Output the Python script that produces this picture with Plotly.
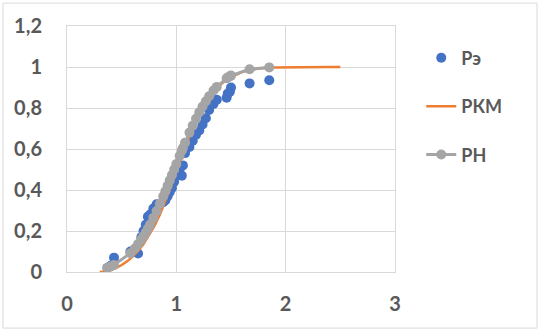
import plotly.graph_objects as go

# Sample points (x) with empirical (Рэ) and normal (РН) probabilities
x_obs = [0.37, 0.40, 0.43, 0.58, 0.62, 0.65, 0.68, 0.70, 0.72, 0.74,
         0.76, 0.79, 0.82, 0.85, 0.88, 0.90, 0.92, 0.94, 0.96, 0.98,
         1.00, 1.03, 1.05, 1.06, 1.08, 1.12, 1.15, 1.18, 1.21, 1.24,
         1.27, 1.30, 1.34, 1.37, 1.46, 1.47, 1.49, 1.50, 1.67, 1.85]
p_emp = [0.02, 0.03, 0.07, 0.10, 0.10, 0.09, 0.17, 0.20, 0.23, 0.27,
         0.28, 0.31, 0.33, 0.33, 0.34, 0.35, 0.37, 0.39, 0.41, 0.44,
         0.47, 0.50, 0.47, 0.52, 0.58, 0.61, 0.64, 0.67, 0.69, 0.72,
         0.75, 0.79, 0.82, 0.84, 0.85, 0.87, 0.88, 0.90, 0.92, 0.935]
p_norm = [0.021, 0.027, 0.034, 0.092, 0.115, 0.136, 0.159, 0.176, 0.193, 0.212,
          0.232, 0.264, 0.297, 0.333, 0.369, 0.394, 0.421, 0.447, 0.473, 0.500,
          0.527, 0.566, 0.592, 0.605, 0.631, 0.680, 0.714, 0.747, 0.779, 0.807,
          0.833, 0.857, 0.885, 0.903, 0.945, 0.949, 0.955, 0.958, 0.989, 0.998]

# РКМ curve
x_rkm = [0.30, 0.35, 0.40, 0.45, 0.50, 0.55, 0.60, 0.65, 0.70, 0.75,
         0.80, 0.85, 0.90, 0.95, 1.00, 1.05, 1.10, 1.15, 1.20, 1.25,
         1.30, 1.35, 1.40, 1.45, 1.50, 1.60, 1.70, 1.80, 1.90, 2.00,
         2.10, 2.20, 2.30, 2.40, 2.50]
p_rkm = [0.0, 0.003, 0.010, 0.020, 0.034, 0.052, 0.075, 0.103, 0.137, 0.178,
         0.225, 0.280, 0.345, 0.415, 0.490, 0.565, 0.635, 0.700, 0.757, 0.806,
         0.848, 0.883, 0.912, 0.934, 0.951, 0.975, 0.988, 0.995, 0.998, 0.999,
         1.0, 1.0, 1.0, 1.0, 1.0]

x_ticks = [0, 1, 2, 3]
y_ticks = [0, 0.2, 0.4, 0.6, 0.8, 1, 1.2]

GRID = "#d9d9d9"
TXT = "#595959"
FONT = "Lato"

fig = go.Figure()
fig.add_trace(go.Scatter(x=x_obs, y=p_emp, mode="markers", name="Рэ",
                         legendgroup="a",
                         marker=dict(color="#4472C4", size=10)))
fig.add_trace(go.Scatter(x=x_rkm, y=p_rkm, mode="lines", name="РКМ",
                         legendgroup="b",
                         line=dict(color="#ED7D31", width=2.5)))
fig.add_trace(go.Scatter(x=x_obs, y=p_norm, mode="lines+markers", name="РН",
                         legendgroup="c",
                         line=dict(color="#A5A5A5", width=3),
                         marker=dict(color="#A5A5A5", size=10)))

fig.update_layout(
    width=541, height=332,
    margin=dict(l=67, r=146, t=26, b=60),
    paper_bgcolor="white", plot_bgcolor="white",
    separators=",.",
    font=dict(family=FONT, size=18, color=TXT, weight="bold"),
    showlegend=True,
    legend=dict(x=1.08, y=0.945, xanchor="left", yanchor="top",
                tracegroupgap=22, bgcolor="rgba(0,0,0,0)",
                font=dict(family=FONT, size=18, color=TXT, weight="bold")),
    xaxis=dict(range=[0, 3], tickvals=x_ticks, showgrid=True, gridcolor=GRID,
               gridwidth=1, showline=True, mirror=True, linecolor=GRID,
               zeroline=False, ticks="", ticklabelstandoff=14,
               tickfont=dict(family=FONT, size=20, color=TXT, weight="bold")),
    yaxis=dict(range=[0, 1.2], tickvals=y_ticks, showgrid=True, gridcolor=GRID,
               gridwidth=1, showline=True, mirror=True, linecolor=GRID,
               zeroline=False, ticks="", ticklabelstandoff=20,
               tickfont=dict(family=FONT, size=20, color=TXT, weight="bold")),
    shapes=[dict(type="rect", xref="paper", yref="paper",
                 x0=-0.195, x1=1.433, y0=-0.228, y1=1.093,
                 line=dict(color=GRID, width=1), layer="below")],
)

fig.write_html("out.html", config={"displayModeBar": False},
               post_script="document.body.style.margin='0';document.body.style.padding='0';")
